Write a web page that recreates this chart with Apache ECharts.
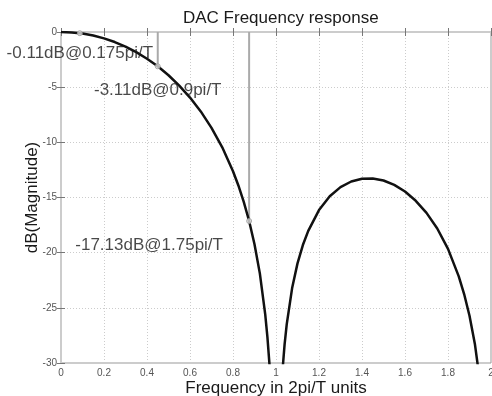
<!DOCTYPE html>
<html>
<head>
<meta charset="utf-8">
<script src="https://cdn.jsdelivr.net/npm/echarts@6/dist/echarts.min.js"></script>
<style>
  html, body { margin: 0; padding: 0; background: #fff; }
  #chart { width: 492px; height: 396px; }
</style>
</head>
<body>
<div id="chart"></div>
<script>
// frequency response (x in 2pi/T units, y in dB)
var freq = [0, 0.05, 0.1, 0.15, 0.2, 0.25, 0.3, 0.35, 0.4, 0.45, 0.5, 0.55, 0.6, 0.65, 0.7, 0.75,
  0.8, 0.825, 0.85, 0.875, 0.9, 0.925, 0.95, 0.96, 0.97, 0.98, 0.99,
  1.01, 1.02, 1.03, 1.04, 1.05, 1.075, 1.1, 1.125, 1.15, 1.2, 1.25, 1.3, 1.35, 1.4, 1.45, 1.5,
  1.55, 1.6, 1.65, 1.7, 1.75, 1.8, 1.85, 1.875, 1.9, 1.925, 1.95, 1.97, 1.99]
var magDb = [0, -0.04, -0.14, -0.32, -0.58, -0.91, -1.33, -1.83, -2.42, -3.11, -3.92, -4.86, -5.94, -7.2, -8.69, -10.45,
  -12.62, -13.91, -15.39, -17.13, -19.23, -21.9, -25.61, -27.63, -30.21, -33.81, -39.91,
  -40.09, -34.16, -30.73, -28.32, -26.48, -23.21, -20.97, -19.31, -18.02, -16.14, -14.89, -14.06, -13.55, -13.3, -13.28, -13.46,
  -13.86, -14.46, -15.3, -16.39, -17.81, -19.66, -22.15, -23.75, -25.72, -28.27, -31.86, -36.36, -45.98]

// marked points
var markFreq = [0.0875, 0.45, 0.875]
var markDb = [-0.11, -3.11, -17.13]
var markText = ['-0.11dB@0.175pi/T', '-3.11dB@0.9pi/T', '-17.13dB@1.75pi/T']
var markOffset = [[0, 1], [0, 4], [-100, 5]]

var xTicks = ['0', '0.2', '0.4', '0.6', '0.8', '1', '1.2', '1.4', '1.6', '1.8', '2']

var chart = echarts.init(document.getElementById('chart'))
var font = 'Liberation Sans, Arial, sans-serif'

var curve = freq.map(function(f, i) { return [f, magDb[i]] })

var stems = markFreq.map(function(f, i) {
  return {
    type: 'line',
    data: [[f, 0], [f, markDb[i]]],
    symbol: 'none',
    lineStyle: { color: '#aaa', width: 2 },
    silent: true,
    z: 2
  }
})

var points = {
  type: 'scatter',
  data: markFreq.map(function(f, i) {
    return {
      value: [f, markDb[i]],
      label: {
        show: true,
        position: 'bottom',
        distance: 8,
        offset: markOffset[i],
        formatter: markText[i]
      }
    }
  }),
  symbol: 'circle',
  symbolSize: 5,
  itemStyle: { color: '#ddd', borderColor: '#999', borderWidth: 1 },
  label: { color: '#1a1a1a', fontFamily: font, fontSize: 17 },
  z: 4
}

var axisFont = { color: '#555', fontSize: 10, fontFamily: font }
var tick = { show: true, inside: true, length: 4, lineStyle: { color: '#777' } }
var grid = { show: true, lineStyle: { color: '#ccc', type: [1, 2] } }
var nameStyle = { color: '#1a1a1a', fontSize: 17, fontFamily: font }

chart.setOption({
  animation: false,
  title: {
    text: 'DAC Frequency response',
    left: 178,
    top: 5,
    textStyle: { color: '#1a1a1a', fontSize: 17, fontWeight: 'normal', fontFamily: font }
  },
  grid: {
    left: 61, top: 32, width: 430, height: 331,
    containLabel: false, outerBoundsMode: 'none',
    show: true, borderColor: '#999', borderWidth: 1, backgroundColor: '#fff'
  },
  xAxis: [{
    type: 'value', min: 0, max: 2, interval: 0.2,
    name: 'Frequency in 2pi/T units', nameLocation: 'middle', nameGap: 17, nameMoveOverlap: false,
    nameTextStyle: nameStyle,
    axisLine: { show: false },
    axisTick: tick,
    axisLabel: Object.assign({ margin: 5, formatter: function(v) { return xTicks[Math.round(v / 0.2)] } }, axisFont),
    splitLine: grid
  }, {
    type: 'value', min: 0, max: 2, interval: 0.2, position: 'top',
    axisLine: { show: false },
    axisTick: tick,
    axisLabel: { show: false },
    splitLine: { show: false }
  }],
  yAxis: [{
    type: 'value', min: -30, max: 0, interval: 5,
    name: 'dB(Magnitude)', nameLocation: 'middle', nameGap: 20, nameMoveOverlap: false,
    nameTextStyle: nameStyle,
    axisLine: { show: false },
    axisTick: tick,
    axisLabel: Object.assign({ margin: 4 }, axisFont),
    splitLine: grid
  }, {
    type: 'value', min: -30, max: 0, interval: 5, position: 'right',
    axisLine: { show: false },
    axisTick: tick,
    axisLabel: { show: false },
    splitLine: { show: false }
  }],
  series: stems.concat([{
    type: 'line',
    data: curve,
    symbol: 'none',
    clip: true,
    lineStyle: { color: '#111', width: 2.5 },
    z: 3
  }, points])
})
</script>
</body>
</html>
